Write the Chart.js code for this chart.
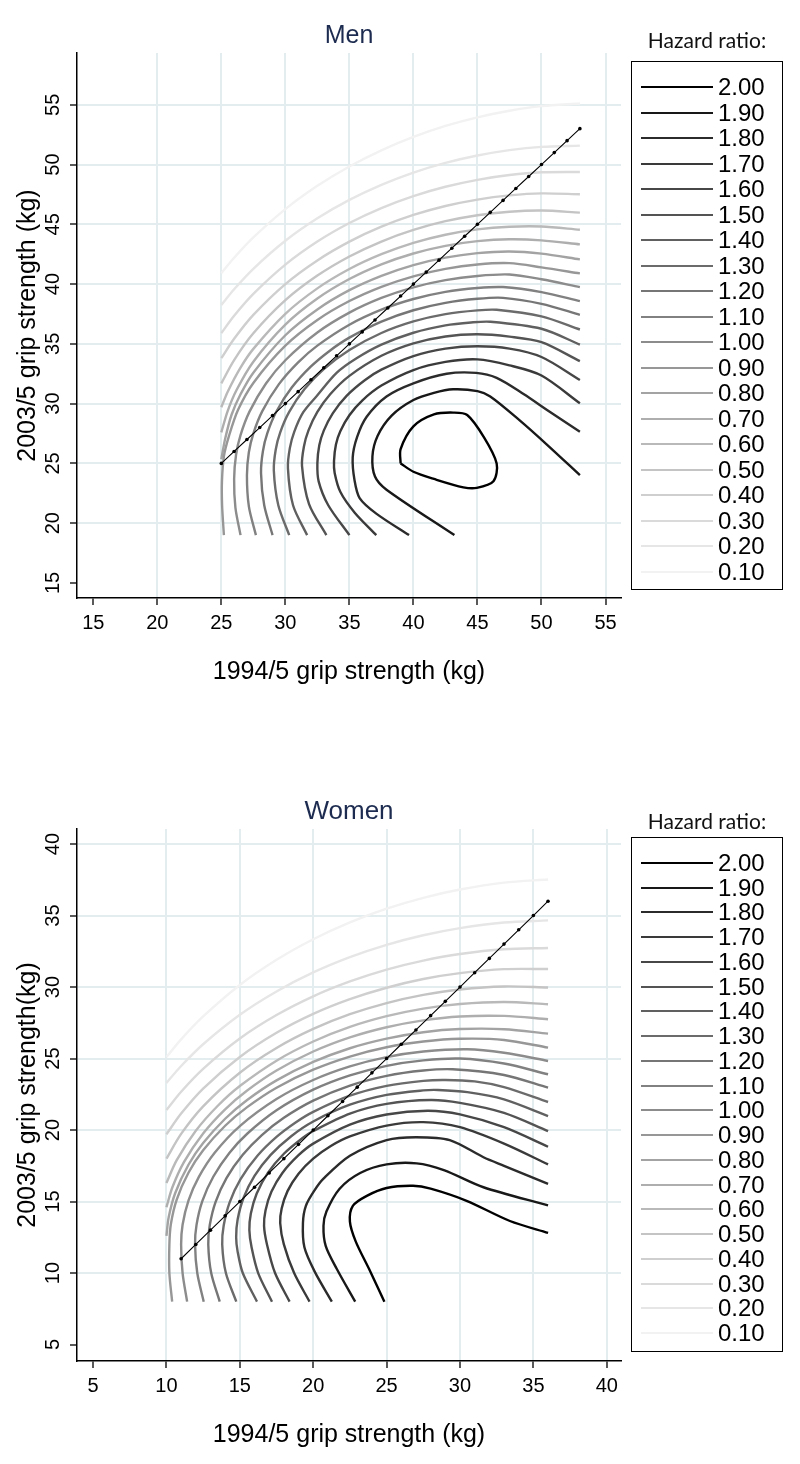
<!DOCTYPE html>
<html>
<head>
<meta charset="utf-8">
<script src="https://cdn.jsdelivr.net/npm/chart.js@4.4.1/dist/chart.umd.min.js"></script>
<style>
  body { margin: 0; background: #fff; width: 800px; height: 1464px; position: relative; overflow: hidden; font-family: "Liberation Sans", Arial, sans-serif; }
  .panel { position: absolute; left: 0; width: 800px; height: 732px; }
  .legend-title { position: absolute; left: 631px; width: 152px; text-align: center; font-family: Lato, "Open Sans", sans-serif; font-size: 21px; line-height: 24px; color: #111; }
  .legend-box { position: absolute; left: 631px; width: 152px; border: 1px solid #000; box-sizing: border-box; background: #fff; }
  .legend-row { position: absolute; left: 0; width: 100%; height: 24px; }
  .swatch { position: absolute; left: 9px; top: 11px; width: 72px; height: 2px; }
  .label { position: absolute; left: 86px; top: 0; line-height: 24px; font-size: 24px; color: #000; }
</style>
</head>
<body>
<canvas id="menChart" class="panel" width="800" height="732" style="top:0"></canvas>
<canvas id="womenChart" class="panel" width="800" height="732" style="top:732px"></canvas>
<script>
// hazard ratio levels, lightest to darkest
var levels = ['0.10','0.20','0.30','0.40','0.50','0.60','0.70','0.80','0.90','1.00',
              '1.10','1.20','1.30','1.40','1.50','1.60','1.70','1.80','1.90','2.00'];
var lineColors = ['#f2f2f2','#e6e6e6','#dadada','#cfcfcf','#c4c4c4','#b9b9b9','#aeaeae','#a3a3a3','#979797','#8c8c8c',
                  '#818181','#767676','#6b6b6b','#606060','#545454','#474747','#3a3a3a','#2b2b2b','#181818','#000000'];

var menXTicks = [15, 20, 25, 30, 35, 40, 45, 50, 55];
var menYTicks = [15, 20, 25, 30, 35, 40, 45, 50, 55];
var womenXTicks = [5, 10, 15, 20, 25, 30, 35, 40];
var womenYTicks = [5, 10, 15, 20, 25, 30, 35, 40];

// equal grip line (1994/5 = 2003/5)
var menDiagonal = [25,26,27,28,29,30,31,32,33,34,35,36,37,38,39,40,41,42,43,44,45,46,47,48,49,50,51,52,53];
var womenDiagonal = [11,12,13,14,15,16,17,18,19,20,21,22,23,24,25,26,27,28,29,30,31,32,33,34,35,36];

// contour lines, [1994/5 grip, 2003/5 grip], one list per level
var menLines = [
  [[25,40.91],[26,42.2],[27.5,43.9],[30,46.27],[32.5,48.22],[35,49.84],[37.5,51.19],[40,52.31],[42.5,53.23],[45,53.95],[47.5,54.5],[50,54.89],[53,55.1]],
  [[25,38.26],[26,39.57],[27.5,41.28],[30,43.62],[32.5,45.5],[35,47.04],[37.5,48.3],[40,49.33],[42.5,50.14],[45,50.76],[47.5,51.21],[50,51.48],[53,51.58]],
  [[25,35.9],[26,37.35],[27.5,39.18],[30,41.63],[32.5,43.56],[35,45.11],[37.5,46.36],[40,47.36],[42.5,48.14],[45,48.72],[47.5,49.12],[50,49.35],[53,49.38]],
  [[25,33.8],[26,35.42],[27.5,37.42],[30,40.0],[32.5,41.98],[35,43.55],[37.5,44.8],[40,45.78],[42.5,46.53],[45,47.07],[47.5,47.42],[50,47.59],[53,47.51]],
  [[25,31.7],[26,33.64],[27.5,35.88],[30,38.65],[32.5,40.71],[35,42.31],[37.5,43.56],[40,44.53],[42.5,45.26],[45,45.76],[47.5,46.05],[50,46.15],[53,45.98]],
  [[25,29.7],[25.5,31.0],[26.5,33.01],[27.5,34.58],[30,37.51],[32.5,39.64],[35,41.26],[37.5,42.5],[40,43.45],[42.5,44.13],[45,44.58],[47.5,44.8],[50,44.82],[53,44.55]],
  [[25,27.6],[25.5,29.4],[26.2,31.16],[27.5,33.51],[30,36.61],[32.5,38.79],[35,40.42],[37.5,41.65],[40,42.56],[42.5,43.2],[45,43.59],[47.5,43.75],[50,43.66],[53,43.32]],
  [[25,25.35],[25.3,27.06],[25.8,29.07],[26.5,30.78],[27.5,32.59],[30,35.72],[32.5,37.88],[35,39.49],[37.5,40.69],[40,41.59],[42.5,42.21],[45,42.59],[47.5,42.73],[50,42.55],[53,42.07]],
  [[25.2,19],[25.06,21.5],[25.05,23.5],[25.2,25.59],[25.6,27.3],[26.3,29.46],[27.5,31.73],[30,34.85],[32.5,37.0],[35,38.58],[37.5,39.77],[40,40.65],[42.5,41.27],[45,41.64],[47.5,41.75],[50,41.4],[53,40.89]],
  [[26.5,19],[26.1,21.3],[26.0,23.7],[26.15,25.72],[26.5,27.37],[27.2,29.33],[28.5,31.7],[30,33.63],[32.5,35.95],[35,37.61],[37.5,38.84],[40,39.73],[42.5,40.33],[45,40.68],[47.5,40.8],[50,40.4],[53,39.75]],
  [[27.7,19],[27.15,21.4],[27.0,24.0],[27.15,25.93],[27.5,27.5],[28.2,29.37],[29.5,31.63],[31,33.45],[32.5,34.85],[35,36.6],[37.5,37.86],[40,38.75],[42.5,39.35],[45,39.67],[47,39.75],[50,39.33],[53,38.58]],
  [[29.0,19],[28.35,21.5],[28.1,24.2],[28.25,26.04],[28.6,27.55],[29.3,29.34],[30.5,31.34],[32,33.11],[33.5,34.45],[35,35.52],[37.5,36.86],[40,37.81],[42.5,38.43],[45,38.77],[47,38.85],[50,38.35],[53,37.43]],
  [[30.3,19],[29.45,21.5],[29.1,24.4],[29.25,26.16],[29.6,27.6],[30.3,29.31],[31.5,31.22],[33,32.89],[35,34.49],[37.5,35.91],[40,36.88],[42.5,37.49],[45,37.8],[46.5,37.85],[50,37.3],[53,36.2]],
  [[31.7,19],[30.6,21.5],[30.2,24.6],[30.35,26.28],[30.7,27.66],[31.4,29.28],[32.5,30.7],[34,32.57],[35.5,33.75],[37.5,34.93],[40,35.93],[42.5,36.55],[44.5,36.79],[46,36.85],[50,36.26],[53,34.94]],
  [[33.2,19],[31.85,21.6],[31.3,24.8],[31.45,26.42],[31.8,27.74],[32.5,29.3],[33.5,30.78],[35,32.32],[37.5,34.0],[40,35.04],[42.5,35.62],[45,35.8],[47.5,35.6],[50,35.14],[53,33.55]],
  [[35.0,19],[33.35,21.5],[32.6,23.5],[32.5,25.0],[32.65,26.51],[33.0,27.74],[33.7,29.19],[34.8,30.67],[36.2,31.96],[37.5,32.84],[40,33.98],[42.5,34.6],[45,34.8],[47.5,34.6],[50,33.9],[53,31.98]],
  [[37.1,19],[35.4,20.9],[34.3,22.6],[33.85,24.2],[33.8,25.2],[33.95,26.59],[34.3,27.71],[35.0,29.03],[36.0,30.26],[37.5,31.51],[40,32.81],[42.5,33.49],[45,33.7],[47.5,33.2],[50,32.35],[53,30.03]],
  [[39.66,19],[37.1,20.8],[35.8,22.1],[35.4,23.6],[35.26,25.5],[35.6,27.2],[36.35,28.9],[37.9,30.6],[40,31.7],[42.6,32.5],[44.9,32.57],[46.5,32.15],[48.6,30.8],[50.7,29.27],[53,27.65]],
  [[43.2,19],[37.9,22.8],[37.0,23.9],[36.8,25.6],[37.2,27.3],[38.3,29.0],[40.0,30.3],[41.6,30.9],[43.1,31.2],[45.0,31.05],[46.0,30.6],[48.3,28.6],[50.4,26.6],[53,24.02]],
  [[39.0,25.0],[39.0,26.2],[40.0,28.1],[41.6,29.1],[43.1,29.25],[44.2,29.05],[45.5,27.2],[46.5,25.0],[46.25,23.5],[44.95,22.95],[43.9,23.0],[41.6,23.7],[40.0,24.3],[39.0,25.0]]
];

var womenLines = [
  [[10,25.1],[11,26.34],[12.5,27.94],[15,30.14],[17.5,31.9],[20,33.34],[22.5,34.52],[25,35.48],[27.5,36.24],[30,36.82],[33,37.3],[36,37.52]],
  [[10,23.3],[11,24.48],[12.5,26.0],[15,28.06],[17.5,29.69],[20,31.02],[22.5,32.09],[25,32.95],[27.5,33.62],[30,34.12],[33,34.51],[36,34.66]],
  [[10,21.4],[11,22.68],[12.5,24.28],[15,26.4],[17.5,28.04],[20,29.35],[22.5,30.39],[25,31.22],[27.5,31.85],[30,32.31],[33,32.64],[36,32.73]],
  [[10,19.7],[11,21.15],[12.5,22.9],[15,25.11],[17.5,26.8],[20,28.12],[22.5,29.15],[25,29.95],[27.5,30.56],[30,30.97],[33,31.25],[36,31.26]],
  [[10,18.0],[11,19.73],[12.5,21.66],[15,24.01],[17.5,25.74],[20,27.07],[22.5,28.1],[25,28.88],[27.5,29.45],[30,29.83],[33,30.04],[36,29.97]],
  [[10,16.3],[10.7,17.89],[12,19.95],[13.5,21.7],[15,23.08],[17.5,24.85],[20,26.19],[22.5,27.21],[25,27.96],[27.5,28.49],[30,28.81],[33,28.95],[36,28.8]],
  [[10,14.6],[10.4,15.98],[11.2,17.77],[12.5,19.76],[14,21.45],[15.5,22.76],[17.5,24.16],[20,25.49],[22.5,26.48],[25,27.19],[27.5,27.67],[30,27.94],[33,27.98],[36,27.75]],
  [[10,12.6],[10.15,13.89],[10.6,15.6],[11.5,17.57],[12.5,19.09],[14,20.79],[15.5,22.1],[17.5,23.47],[20,24.76],[22.5,25.72],[25,26.39],[27.5,26.84],[30,27.06],[33,27.05],[36,26.74]],
  [[10.39,8],[10.2,10],[10.2,12.0],[10.3,13.41],[10.7,15.14],[11.5,17.01],[12.5,18.58],[14,20.3],[15.5,21.6],[17.5,22.96],[20,24.22],[22.5,25.14],[25,25.79],[27.5,26.19],[30,26.38],[33,26.3],[36,25.76]],
  [[11.41,8],[11.1,10],[11.0,12.0],[11.1,13.38],[11.5,15.07],[12.2,16.71],[13.3,18.43],[15,20.28],[17.5,22.17],[20,23.5],[22.5,24.45],[25,25.1],[27.5,25.49],[30.5,25.65],[33,25.4],[36,24.83]],
  [[12.54,8],[12.1,10],[11.95,12.0],[12.05,13.37],[12.45,15.04],[13.2,16.75],[14.3,18.41],[15.5,19.74],[17.5,21.38],[20,22.82],[22.5,23.82],[25,24.49],[27.5,24.87],[30,25.0],[33,24.65],[36,23.9]],
  [[13.63,8],[13.05,10],[12.85,12.0],[12.95,13.34],[13.35,14.98],[14.1,16.66],[15.2,18.27],[16.5,19.65],[18,20.86],[20,22.06],[22.5,23.11],[25,23.79],[27.5,24.16],[29.5,24.25],[33,23.85],[36,22.96]],
  [[14.76,8],[14.05,10],[13.8,12.0],[13.9,13.32],[14.3,14.93],[15.05,16.57],[16.2,18.2],[17.5,19.52],[18.8,20.53],[20,21.27],[22.5,22.4],[25,23.09],[27.5,23.44],[29,23.5],[31,23.4],[33,23.0],[36,21.96]],
  [[16.17,8],[15.2,10],[14.85,11.5],[14.75,12.5],[14.85,13.74],[15.25,15.25],[16.0,16.79],[17.1,18.26],[18.5,19.57],[20,20.6],[22.5,21.77],[25,22.46],[27.5,22.77],[28.5,22.8],[30.5,22.65],[33,22.15],[36,20.98]],
  [[17.19,8],[16.25,10],[15.8,11.8],[15.65,13.0],[15.75,14.16],[16.15,15.56],[16.9,16.99],[18,18.34],[19.3,19.46],[20,19.93],[22.5,21.15],[25,21.83],[28,22.1],[30,21.9],[33,21.2],[36,19.93]],
  [[18.39,8],[17.4,10],[16.85,12],[16.65,13.3],[16.75,14.38],[17.15,15.68],[17.9,17.0],[19,18.24],[20,19.05],[22.5,20.38],[25,21.09],[27.8,21.35],[30,21.1],[33,20.2],[36,18.83]],
  [[19.75,8],[18.7,10],[18.0,12],[17.75,13.5],[17.85,14.51],[18.25,15.73],[19.0,16.95],[20,18.0],[21.2,18.88],[22.5,19.55],[25,20.31],[27.5,20.55],[30,20.2],[33,19.05],[36,17.6]],
  [[21.27,8],[20.1,10.1],[19.4,11.8],[19.3,13.5],[19.5,14.7],[20.1,15.8],[20.7,16.6],[22.5,18.2],[25,19.3],[27,19.5],[29.3,19.3],[31.6,18.1],[33,17.5],[36,16.24]],
  [[22.86,8],[21.6,10.3],[20.85,11.9],[20.7,13.3],[20.9,14.3],[21.8,15.9],[23.2,17.0],[25,17.6],[27.05,17.67],[28.9,17.2],[31.6,16.0],[36,14.73]],
  [[24.85,8],[23.8,10.3],[22.9,12.2],[22.5,13.6],[22.7,14.7],[23.65,15.4],[25,15.95],[26.8,16.1],[28,15.9],[30.45,15.05],[33.4,13.64],[36,12.81]]
];

Chart.defaults.font.family = '"Liberation Sans", Arial, sans-serif';
Chart.defaults.color = '#000';

var gridColor = '#e3ecee';

var panelTitle = {
  id: 'panelTitle',
  afterDraw: function(chart, args, opts) {
    var ctx = chart.ctx, area = chart.chartArea;
    ctx.save();
    ctx.font = opts.size + 'px "Liberation Sans", Arial, sans-serif';
    ctx.fillStyle = '#1c2b4f';
    ctx.textAlign = 'center';
    ctx.textBaseline = 'alphabetic';
    ctx.fillText(opts.text, (area.left + area.right) / 2, opts.y);
    ctx.restore();
  }
};

function makeAxis(min, max, ticks, title, titlePad) {
  return {
    type: 'linear',
    min: min,
    max: max,
    afterBuildTicks: function(scale) {
      scale.ticks = ticks.map(function(v) { return { value: v }; });
    },
    grid: {
      color: function(c) { return (c.tick && c.tick.value === ticks[0]) ? 'rgba(0,0,0,0)' : gridColor; },
      lineWidth: 2,
      drawTicks: true,
      tickLength: 7,
      tickWidth: 1.3,
      tickColor: '#000'
    },
    border: { display: true, color: '#000', width: 1.5 },
    title: { display: true, text: title, font: { size: 25 }, color: '#000', padding: titlePad }
  };
}

function drawPanel(id, o) {
  var datasets = [{
    label: 'diagonal',
    data: o.diagonal.map(function(v) { return { x: v, y: v }; }),
    showLine: true,
    borderColor: '#000',
    borderWidth: 1.1,
    pointRadius: 1.8,
    pointBackgroundColor: '#000',
    pointBorderWidth: 0,
    order: 0
  }];
  o.lines.forEach(function(line, i) {
    datasets.push({
      label: levels[i],
      data: line.map(function(p) { return { x: p[0], y: p[1] }; }),
      showLine: true,
      borderColor: lineColors[i],
      borderWidth: 2.4,
      pointRadius: 0,
      tension: 0.3,
      fill: false,
      order: 1 + (levels.length - i)
    });
  });

  var xAxis = makeAxis(o.xMin, o.xMax, o.xTicks, '1994/5 grip strength (kg)', { top: 0, bottom: 11 });
  xAxis.ticks = { font: { size: 20 }, padding: 6, maxRotation: 0, autoSkip: false, color: '#000' };
  xAxis.afterFit = function(scale) { scale.height = 100; };

  var yAxis = makeAxis(o.yMin, o.yMax, o.yTicks, o.yTitle, { top: 13, bottom: 0 });
  yAxis.ticks = { font: { size: 20 }, padding: 5, minRotation: 90, maxRotation: 90, crossAlign: 'center', autoSkip: false, color: '#000' };
  yAxis.afterFit = function(scale) { scale.width = 77; };

  new Chart(document.getElementById(id), {
    type: 'scatter',
    data: { datasets: datasets },
    options: {
      responsive: false,
      animation: false,
      devicePixelRatio: 1,
      layout: { padding: { left: 0, right: 179, top: o.top, bottom: o.bottom } },
      scales: { x: xAxis, y: yAxis },
      plugins: {
        legend: { display: false },
        tooltip: { enabled: false },
        panelTitle: { text: o.title, y: o.titleY, size: o.titleSize }
      }
    },
    plugins: [panelTitle]
  });
}

function drawLegend(o) {
  var title = document.createElement('div');
  title.className = 'legend-title';
  title.textContent = 'Hazard ratio:';
  title.style.top = (o.titleY - 12) + 'px';
  document.body.appendChild(title);

  var box = document.createElement('div');
  box.className = 'legend-box';
  box.style.top = o.boxTop + 'px';
  box.style.height = o.boxHeight + 'px';
  for (var k = 0; k < levels.length; k++) {
    var i = levels.length - 1 - k;
    var row = document.createElement('div');
    row.className = 'legend-row';
    row.style.top = (o.firstRow + k * o.step - 12) + 'px';
    var sw = document.createElement('span');
    sw.className = 'swatch';
    sw.style.background = lineColors[i];
    var lb = document.createElement('span');
    lb.className = 'label';
    lb.textContent = levels[i];
    row.appendChild(sw);
    row.appendChild(lb);
    box.appendChild(row);
  }
  document.body.appendChild(box);
}

drawPanel('menChart', {
  lines: menLines, diagonal: menDiagonal,
  xMin: 13.73, xMax: 56.21, yMin: 13.74, yMax: 59.33,
  xTicks: menXTicks, yTicks: menYTicks,
  yTitle: '2003/5 grip strength (kg)',
  title: 'Men', titleY: 43, titleSize: 25,
  top: 53, bottom: 34
});

drawPanel('womenChart', {
  lines: womenLines, diagonal: womenDiagonal,
  xMin: 3.906, xMax: 40.97, yMin: 3.85, yMax: 41.05,
  xTicks: womenXTicks, yTicks: womenYTicks,
  yTitle: '2003/5 grip strength(kg)',
  title: 'Women', titleY: 87, titleSize: 26,
  top: 97, bottom: 3
});

drawLegend({ titleY: 40, boxTop: 61, boxHeight: 529, firstRow: 25, step: 25.5 });
drawLegend({ titleY: 821, boxTop: 837, boxHeight: 515, firstRow: 25, step: 24.74 });
</script>
</body>
</html>
